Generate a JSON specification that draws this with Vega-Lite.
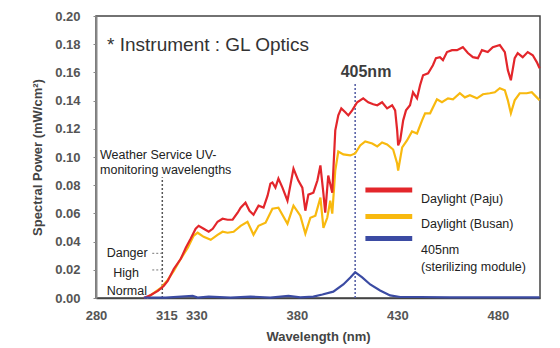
{
  "$schema": "https://vega.github.io/schema/vega-lite/v6.json",
  "width": 444,
  "height": 282,
  "autosize": "none",
  "padding": {"left": 96, "top": 16, "right": 20, "bottom": 50},
  "background": "white",
  "config": {"view": {"stroke": "#444", "strokeWidth": 1.5}, "font": "Liberation Sans"},
  "datasets": {
    "curves": [
      {"s": "Busan", "w": 305.3, "v": 0}, {"s": "Busan", "w": 308.8, "v": 0.0036}, {"s": "Busan", "w": 312.3, "v": 0.0071}, {"s": "Busan", "w": 315.7, "v": 0.0128}, {"s": "Busan", "w": 318.7, "v": 0.0192}, {"s": "Busan", "w": 322.2, "v": 0.0278}, {"s": "Busan", "w": 325.7, "v": 0.0356}, {"s": "Busan", "w": 328.6, "v": 0.0441}, {"s": "Busan", "w": 330.6, "v": 0.0463}, {"s": "Busan", "w": 333.6, "v": 0.0434}, {"s": "Busan", "w": 337.1, "v": 0.0413}, {"s": "Busan", "w": 340.5, "v": 0.0448}, {"s": "Busan", "w": 343.0, "v": 0.047}, {"s": "Busan", "w": 345.5, "v": 0.0463}, {"s": "Busan", "w": 348.5, "v": 0.047}, {"s": "Busan", "w": 352.0, "v": 0.0512}, {"s": "Busan", "w": 355.4, "v": 0.0541}, {"s": "Busan", "w": 358.4, "v": 0.0448}, {"s": "Busan", "w": 360.9, "v": 0.0512}, {"s": "Busan", "w": 364.4, "v": 0.0534}, {"s": "Busan", "w": 367.8, "v": 0.0633}, {"s": "Busan", "w": 370.8, "v": 0.0641}, {"s": "Busan", "w": 375.3, "v": 0.0527}, {"s": "Busan", "w": 378.3, "v": 0.0655}, {"s": "Busan", "w": 381.7, "v": 0.0584}, {"s": "Busan", "w": 384.2, "v": 0.0456}, {"s": "Busan", "w": 386.7, "v": 0.0569}, {"s": "Busan", "w": 389.2, "v": 0.0584}, {"s": "Busan", "w": 391.7, "v": 0.0712}, {"s": "Busan", "w": 393.2, "v": 0.0498}, {"s": "Busan", "w": 395.1, "v": 0.0569}, {"s": "Busan", "w": 396.6, "v": 0.069}, {"s": "Busan", "w": 397.6, "v": 0.0598}, {"s": "Busan", "w": 399.1, "v": 0.0904}, {"s": "Busan", "w": 400.6, "v": 0.1039}, {"s": "Busan", "w": 403.1, "v": 0.1018}, {"s": "Busan", "w": 406.6, "v": 0.1011}, {"s": "Busan", "w": 409.0, "v": 0.1025}, {"s": "Busan", "w": 411.5, "v": 0.1082}, {"s": "Busan", "w": 414.0, "v": 0.111}, {"s": "Busan", "w": 417.5, "v": 0.1096}, {"s": "Busan", "w": 420.0, "v": 0.1075}, {"s": "Busan", "w": 422.4, "v": 0.1103}, {"s": "Busan", "w": 424.9, "v": 0.1089}, {"s": "Busan", "w": 427.9, "v": 0.1053}, {"s": "Busan", "w": 429.9, "v": 0.0954}, {"s": "Busan", "w": 430.4, "v": 0.0904}, {"s": "Busan", "w": 432.4, "v": 0.1068}, {"s": "Busan", "w": 434.8, "v": 0.1117}, {"s": "Busan", "w": 437.3, "v": 0.1181}, {"s": "Busan", "w": 439.8, "v": 0.1167}, {"s": "Busan", "w": 442.3, "v": 0.126}, {"s": "Busan", "w": 443.8, "v": 0.131}, {"s": "Busan", "w": 446.3, "v": 0.131}, {"s": "Busan", "w": 449.7, "v": 0.1409}, {"s": "Busan", "w": 452.2, "v": 0.1388}, {"s": "Busan", "w": 455.2, "v": 0.1416}, {"s": "Busan", "w": 457.7, "v": 0.1409}, {"s": "Busan", "w": 461.1, "v": 0.1452}, {"s": "Busan", "w": 463.6, "v": 0.1423}, {"s": "Busan", "w": 466.1, "v": 0.1438}, {"s": "Busan", "w": 469.6, "v": 0.1416}, {"s": "Busan", "w": 472.6, "v": 0.1445}, {"s": "Busan", "w": 476.0, "v": 0.1452}, {"s": "Busan", "w": 478.5, "v": 0.1459}, {"s": "Busan", "w": 481.0, "v": 0.1488}, {"s": "Busan", "w": 483.5, "v": 0.1473}, {"s": "Busan", "w": 485.0, "v": 0.1402}, {"s": "Busan", "w": 486.5, "v": 0.131}, {"s": "Busan", "w": 488.4, "v": 0.1402}, {"s": "Busan", "w": 490.9, "v": 0.1452}, {"s": "Busan", "w": 494.4, "v": 0.1452}, {"s": "Busan", "w": 496.9, "v": 0.1459}, {"s": "Busan", "w": 499.4, "v": 0.1423}, {"s": "Busan", "w": 500.8, "v": 0.1402},
      {"s": "Paju", "w": 303.8, "v": 0}, {"s": "Paju", "w": 307.3, "v": 0.0021}, {"s": "Paju", "w": 310.8, "v": 0.005}, {"s": "Paju", "w": 313.7, "v": 0.0085}, {"s": "Paju", "w": 315.7, "v": 0.0121}, {"s": "Paju", "w": 318.7, "v": 0.0206}, {"s": "Paju", "w": 322.2, "v": 0.0278}, {"s": "Paju", "w": 324.7, "v": 0.0356}, {"s": "Paju", "w": 327.1, "v": 0.042}, {"s": "Paju", "w": 329.6, "v": 0.0491}, {"s": "Paju", "w": 331.1, "v": 0.0512}, {"s": "Paju", "w": 333.6, "v": 0.0491}, {"s": "Paju", "w": 336.1, "v": 0.047}, {"s": "Paju", "w": 338.1, "v": 0.0491}, {"s": "Paju", "w": 340.5, "v": 0.0541}, {"s": "Paju", "w": 343.0, "v": 0.0562}, {"s": "Paju", "w": 345.5, "v": 0.0555}, {"s": "Paju", "w": 348.0, "v": 0.0555}, {"s": "Paju", "w": 350.5, "v": 0.0605}, {"s": "Paju", "w": 352.0, "v": 0.0641}, {"s": "Paju", "w": 354.4, "v": 0.0676}, {"s": "Paju", "w": 356.4, "v": 0.0619}, {"s": "Paju", "w": 358.4, "v": 0.0591}, {"s": "Paju", "w": 360.9, "v": 0.0655}, {"s": "Paju", "w": 363.4, "v": 0.0641}, {"s": "Paju", "w": 365.4, "v": 0.0726}, {"s": "Paju", "w": 366.8, "v": 0.0811}, {"s": "Paju", "w": 367.8, "v": 0.0819}, {"s": "Paju", "w": 369.3, "v": 0.0783}, {"s": "Paju", "w": 370.8, "v": 0.0847}, {"s": "Paju", "w": 372.8, "v": 0.0783}, {"s": "Paju", "w": 375.3, "v": 0.069}, {"s": "Paju", "w": 378.3, "v": 0.0918}, {"s": "Paju", "w": 380.7, "v": 0.0833}, {"s": "Paju", "w": 382.7, "v": 0.0783}, {"s": "Paju", "w": 384.2, "v": 0.0619}, {"s": "Paju", "w": 385.7, "v": 0.0733}, {"s": "Paju", "w": 388.2, "v": 0.0747}, {"s": "Paju", "w": 390.2, "v": 0.0833}, {"s": "Paju", "w": 391.7, "v": 0.094}, {"s": "Paju", "w": 393.2, "v": 0.074}, {"s": "Paju", "w": 394.1, "v": 0.0605}, {"s": "Paju", "w": 395.6, "v": 0.0868}, {"s": "Paju", "w": 397.6, "v": 0.0747}, {"s": "Paju", "w": 399.1, "v": 0.1189}, {"s": "Paju", "w": 400.6, "v": 0.1295}, {"s": "Paju", "w": 402.1, "v": 0.1345}, {"s": "Paju", "w": 404.1, "v": 0.1317}, {"s": "Paju", "w": 405.6, "v": 0.1295}, {"s": "Paju", "w": 407.5, "v": 0.1331}, {"s": "Paju", "w": 410.0, "v": 0.1388}, {"s": "Paju", "w": 413.0, "v": 0.1416}, {"s": "Paju", "w": 415.5, "v": 0.1388}, {"s": "Paju", "w": 418.0, "v": 0.1374}, {"s": "Paju", "w": 420.0, "v": 0.1367}, {"s": "Paju", "w": 422.4, "v": 0.1388}, {"s": "Paju", "w": 424.9, "v": 0.1345}, {"s": "Paju", "w": 427.4, "v": 0.1367}, {"s": "Paju", "w": 428.9, "v": 0.1331}, {"s": "Paju", "w": 429.9, "v": 0.1189}, {"s": "Paju", "w": 430.4, "v": 0.1082}, {"s": "Paju", "w": 431.4, "v": 0.1117}, {"s": "Paju", "w": 432.9, "v": 0.126}, {"s": "Paju", "w": 434.3, "v": 0.1331}, {"s": "Paju", "w": 436.3, "v": 0.1367}, {"s": "Paju", "w": 437.8, "v": 0.1459}, {"s": "Paju", "w": 439.8, "v": 0.1416}, {"s": "Paju", "w": 441.3, "v": 0.1509}, {"s": "Paju", "w": 442.8, "v": 0.158}, {"s": "Paju", "w": 445.3, "v": 0.1594}, {"s": "Paju", "w": 447.7, "v": 0.1651}, {"s": "Paju", "w": 449.2, "v": 0.1701}, {"s": "Paju", "w": 451.2, "v": 0.1708}, {"s": "Paju", "w": 452.7, "v": 0.1687}, {"s": "Paju", "w": 454.7, "v": 0.1744}, {"s": "Paju", "w": 457.2, "v": 0.1758}, {"s": "Paju", "w": 459.7, "v": 0.1758}, {"s": "Paju", "w": 462.6, "v": 0.1779}, {"s": "Paju", "w": 465.1, "v": 0.1737}, {"s": "Paju", "w": 467.6, "v": 0.1708}, {"s": "Paju", "w": 470.1, "v": 0.1701}, {"s": "Paju", "w": 472.1, "v": 0.1758}, {"s": "Paju", "w": 475.0, "v": 0.1744}, {"s": "Paju", "w": 477.5, "v": 0.1779}, {"s": "Paju", "w": 481.0, "v": 0.1794}, {"s": "Paju", "w": 483.5, "v": 0.1744}, {"s": "Paju", "w": 485.0, "v": 0.1616}, {"s": "Paju", "w": 486.5, "v": 0.1544}, {"s": "Paju", "w": 488.4, "v": 0.1701}, {"s": "Paju", "w": 489.9, "v": 0.1737}, {"s": "Paju", "w": 492.4, "v": 0.1708}, {"s": "Paju", "w": 494.9, "v": 0.1744}, {"s": "Paju", "w": 497.4, "v": 0.1722}, {"s": "Paju", "w": 499.4, "v": 0.1673}, {"s": "Paju", "w": 500.8, "v": 0.163},
      {"s": "405nm", "w": 303.8, "v": 0.0003}, {"s": "405nm", "w": 314.7, "v": 0.0003}, {"s": "405nm", "w": 328.1, "v": 0.0015}, {"s": "405nm", "w": 330.6, "v": 0.0003}, {"s": "405nm", "w": 336.1, "v": 0.001}, {"s": "405nm", "w": 347.0, "v": 0.0003}, {"s": "405nm", "w": 356.9, "v": 0.001}, {"s": "405nm", "w": 366.8, "v": 0.0003}, {"s": "405nm", "w": 375.8, "v": 0.0015}, {"s": "405nm", "w": 381.7, "v": 0.0005}, {"s": "405nm", "w": 388.2, "v": 0.001}, {"s": "405nm", "w": 392.7, "v": 0.0025}, {"s": "405nm", "w": 398.1, "v": 0.0045}, {"s": "405nm", "w": 403.1, "v": 0.0096}, {"s": "405nm", "w": 406.6, "v": 0.0146}, {"s": "405nm", "w": 409.0, "v": 0.0183}, {"s": "405nm", "w": 412.5, "v": 0.0146}, {"s": "405nm", "w": 416.5, "v": 0.0096}, {"s": "405nm", "w": 421.4, "v": 0.0053}, {"s": "405nm", "w": 426.4, "v": 0.0018}, {"s": "405nm", "w": 431.4, "v": 0.0007}, {"s": "405nm", "w": 441.3, "v": 0.0007}, {"s": "405nm", "w": 456.2, "v": 0.0005}, {"s": "405nm", "w": 471.1, "v": 0.0005}, {"s": "405nm", "w": 486.0, "v": 0.0005}, {"s": "405nm", "w": 500.8, "v": 0.0005}
    ]
  },
  "encoding": {
    "x": {
      "field": "w", "type": "quantitative",
      "scale": {"domain": [280, 501], "nice": false, "zero": false},
      "axis": {
        "values": [280, 315, 330, 380, 430, 480], "format": "d", "grid": false, "ticks": false,
        "labelFont": "Liberation Sans", "labelFontWeight": "bold", "labelFontSize": 13, "labelColor": "#555",
        "labelPadding": 11, "labelFlush": false, "labelOverlap": false,
        "domainColor": "#444", "domainWidth": 1.5,
        "title": "Wavelength (nm)", "titleFont": "Liberation Sans", "titleFontSize": 13, "titleFontWeight": "bold", "titleColor": "#444", "titlePadding": 8
      }
    },
    "y": {
      "field": "v", "type": "quantitative",
      "scale": {"domain": [0, 0.2], "nice": false},
      "axis": {
        "values": [0, 0.02, 0.04, 0.06, 0.08, 0.1, 0.12, 0.14, 0.16, 0.18, 0.2], "format": ".2f", "grid": false,
        "tickSize": 3, "tickColor": "#888",
        "labelFont": "Liberation Sans", "labelFontWeight": "bold", "labelFontSize": 13, "labelColor": "#555",
        "labelPadding": 13, "labelFlush": false, "labelOverlap": false,
        "domainColor": "#888", "domainWidth": 2, "zindex": 1,
        "title": "Spectral Power (mW/cm²)", "titleFont": "Liberation Sans", "titleFontSize": 13, "titleFontWeight": "bold", "titleColor": "#444", "titlePadding": 10
      }
    }
  },
  "layer": [
    {
      "data": {"values": [{"w": 409, "v": 0, "v2": 0.153}]},
      "mark": {"type": "rule", "color": "#5a64a8", "strokeWidth": 1.6, "strokeDash": [2, 2]},
      "encoding": {"y2": {"field": "v2"}}
    },
    {
      "data": {"values": [{"w": 313, "v": 0, "v2": 0.0856}]},
      "mark": {"type": "rule", "color": "#555", "strokeWidth": 1.5, "strokeDash": [2, 2]},
      "encoding": {"y2": {"field": "v2"}}
    },
    {
      "data": {"values": [{"w": 308, "w2": 313, "v": 0.0317}, {"w": 308, "w2": 313, "v": 0.0199}]},
      "mark": {"type": "rule", "color": "#777", "strokeWidth": 1, "strokeDash": [2, 2]},
      "encoding": {"x2": {"field": "w2"}}
    },
    {
      "data": {"name": "curves"},
      "transform": [{"filter": "datum.s === 'Busan'"}],
      "mark": {"type": "line", "color": "#f8b90f", "strokeWidth": 2.2},
      "encoding": {}
    },
    {
      "data": {"name": "curves"},
      "transform": [{"filter": "datum.s === 'Paju'"}],
      "mark": {"type": "line", "color": "#e3262b", "strokeWidth": 2.2},
      "encoding": {}
    },
    {
      "data": {"name": "curves"},
      "transform": [{"filter": "datum.s === '405nm'"}],
      "mark": {"type": "line", "color": "#3b4ba3", "strokeWidth": 2.2},
      "encoding": {}
    },
    {
      "data": {"values": [
        {"s": "Paju", "w": 414.1, "w2": 437.4, "v": 0.0766},
        {"s": "Busan", "w": 414.1, "w2": 437.4, "v": 0.0578},
        {"s": "405nm", "w": 414.1, "w2": 437.4, "v": 0.0422}
      ]},
      "mark": {"type": "rule", "strokeWidth": 5},
      "encoding": {
        "x2": {"field": "w2"},
        "color": {"field": "s", "type": "nominal", "scale": {"domain": ["Paju", "Busan", "405nm"], "range": ["#e3262b", "#f8b90f", "#3b4ba3"]}, "legend": null}
      }
    },
    {
      "data": {"values": [{"t": "* Instrument : GL Optics", "w": 285.5, "v": 0.175}]},
      "mark": {"type": "text", "font": "Liberation Sans", "fontSize": 19, "color": "#333", "align": "left", "baseline": "alphabetic"},
      "encoding": {"text": {"field": "t"}}
    },
    {
      "data": {"values": [{"t": "405nm", "w": 414.4, "v": 0.1567}]},
      "mark": {"type": "text", "font": "Liberation Sans", "fontSize": 16, "fontWeight": "bold", "color": "#3d3d3d", "align": "center", "baseline": "alphabetic"},
      "encoding": {"text": {"field": "t"}}
    },
    {
      "data": {"values": [
        {"t": "Weather Service UV-", "w": 282.0, "v": 0.0986},
        {"t": "monitoring wavelengths", "w": 282.0, "v": 0.0879},
        {"t": "Danger", "w": 285.3, "v": 0.0293},
        {"t": "High", "w": 288.6, "v": 0.0151},
        {"t": "Normal", "w": 285.3, "v": 0.0021},
        {"t": "Daylight (Paju)", "w": 441.8, "v": 0.0677},
        {"t": "Daylight (Busan)", "w": 441.8, "v": 0.0494},
        {"t": "405nm", "w": 441.8, "v": 0.0309},
        {"t": "(sterilizing module)", "w": 441.8, "v": 0.0188}
      ]},
      "mark": {"type": "text", "font": "Liberation Sans", "fontSize": 12.5, "color": "#222", "align": "left", "baseline": "alphabetic"},
      "encoding": {"text": {"field": "t"}}
    }
  ]
}
